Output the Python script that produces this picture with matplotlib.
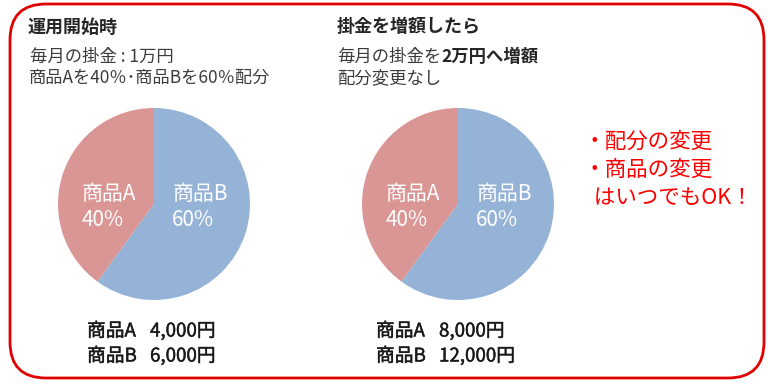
import numpy as np
import matplotlib
matplotlib.use('Agg')
from matplotlib import pyplot as plt
from matplotlib.patches import FancyBboxPatch
import matplotlib.patheffects as pe

plt.rcParams['font.family'] = ['Noto Sans CJK JP', 'DejaVu Sans']

#data
products = ['商品A', '商品B']
shares = [40, 60]
amounts_start = [4000, 6000]
amounts_after = [8000, 12000]
colors = ['#D99694', '#95B3D7']

W, H = 768, 385
fig = plt.figure(figsize=(W/100, H/100), dpi=100)

#background axes in pixel coords
bg = fig.add_axes([0, 0, 1, 1])
bg.set_xlim(0, W)
bg.set_ylim(H, 0)
bg.axis('off')

#rounded red frame
frame = FancyBboxPatch((10, 4), 754, 374, boxstyle='round,pad=0,rounding_size=36',
                       fill=False, ec='#E00000', lw=2.0)
bg.add_patch(frame)

#headers
dark = '#262626'
sub = '#3c3c3c'
bg.text(27, 27, '運用開始時', fontsize=13, fontweight='bold', color=dark, va='center')
bg.text(30, 57, '毎月の掛金 : 1万円', fontsize=12.5, color=sub, va='center')
bg.text(29, 78, '商品Aを40％･商品Bを60％配分', fontsize=12.4, color=sub, va='center')

bg.text(337, 27, '掛金を増額したら', fontsize=13, fontweight='bold', color=dark, va='center')
t1 = bg.text(337, 57, '毎月の掛金を', fontsize=12.5, color=sub, va='center')
bg.annotate('2万円へ増額', xy=(1, 0.5), xycoords=t1, fontsize=12.5,
            fontweight='bold', color=dark, va='center')
bg.text(337, 78, '配分変更なし', fontsize=12.5, color=sub, va='center')

#red note
note = ['・配分の変更', '・商品の変更', '  はいつでもOK！']
for i, s in enumerate(note):
    bg.text(584, 142 + 28*i, s, fontsize=15.5, color='#FF0000', va='center')

#pies
def pie_axes(cx, cy, r):
    ax = fig.add_axes([(cx - r)/W, 1 - (cy + r)/H, 2*r/W, 2*r/H])
    ax.pie(shares, colors=colors, startangle=90, counterclock=True, radius=1,
           wedgeprops=dict(lw=0))
    ax.set_xlim(-1, 1)
    ax.set_ylim(-1, 1)
    ax.axis('off')
    lx = [-0.75, 0.19]
    for k in range(2):
        ax.text(lx[k], 0.1, products[k], fontsize=15, color='white', va='center', ha='left')
        ax.text(lx[k], -0.17, f'{shares[k]}%', fontsize=15, color='white', va='center', ha='left')
    return ax

pie_axes(154, 204, 96)
pie_axes(458, 204, 96)

#amounts
heavy = [pe.withStroke(linewidth=0.3, foreground='#1a1a1a')]
for x0, amts in [(87, amounts_start), (376, amounts_after)]:
    for k in range(2):
        y = 331 + 25*k
        bg.text(x0, y, products[k], fontsize=13.5, color='#1a1a1a', va='center', path_effects=heavy)
        bg.text(x0 + 63, y, f'{amts[k]:,}円', fontsize=13.5, color='#1a1a1a', va='center', path_effects=heavy)

plt.savefig('out.png', dpi=100)
